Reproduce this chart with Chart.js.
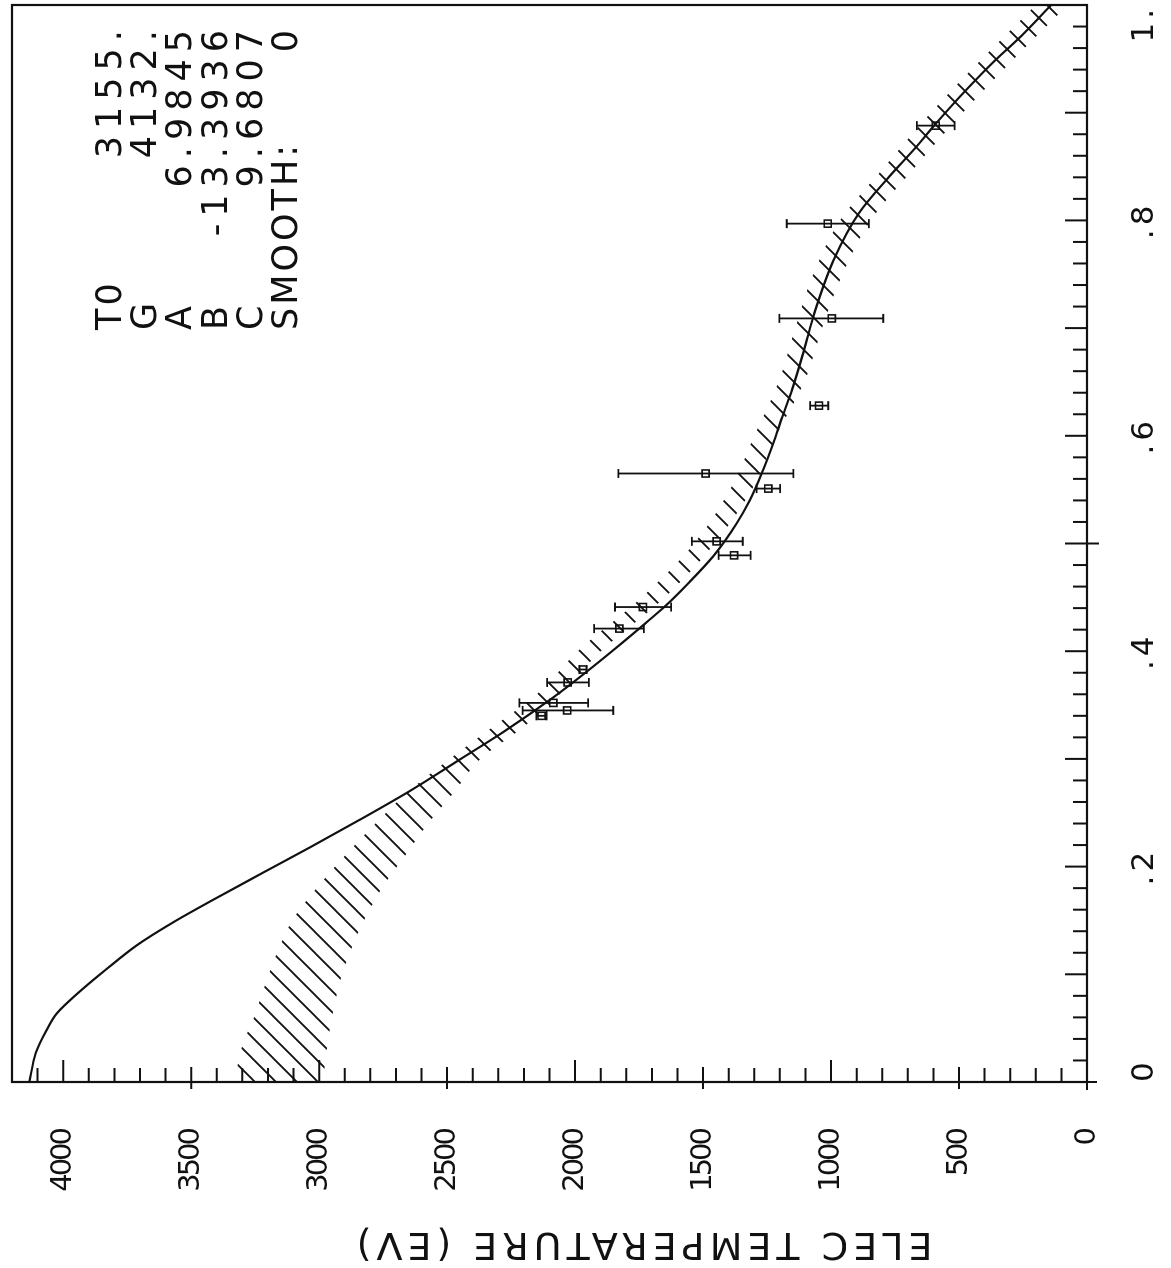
<!DOCTYPE html>
<html>
<head>
<meta charset="utf-8">
<title>Elec temperature profile</title>
<script src="https://cdn.jsdelivr.net/npm/chart.js@4.4.1/dist/chart.umd.min.js"></script>
<style>
  html, body { margin: 0; padding: 0; background: #fff; overflow: hidden; }
  #page { position: relative; width: 1171px; height: 1268px; }
  /* the plot is drawn upright, then the whole sheet is turned a quarter left */
  #plot { position: absolute; left: 0; top: 0; width: 1268px; height: 1171px;
          transform-origin: 0 0; transform: translateY(1268px) rotate(-90deg); }
</style>
</head>
<body>
<div id="page"><canvas id="plot" width="1268" height="1171"></canvas></div>
<script>
const INK = '#111';
const FONT = '"DejaVu Sans", sans-serif';

// Fitted profile (normalised radius -> temperature, eV)
const FIT_R = [0.000, 0.027, 0.048, 0.064, 0.083, 0.104, 0.127, 0.149, 0.171, 0.194, 0.218, 0.243, 0.271,
  0.301, 0.325, 0.357, 0.380, 0.408, 0.424, 0.441, 0.463, 0.488, 0.519, 0.540, 0.568, 0.593, 0.618,
  0.643, 0.680, 0.714, 0.763, 0.807, 0.840, 0.868, 0.890, 0.915, 0.946, 0.974, 1.000];
const FIT_T = [4132, 4107, 4065, 4024, 3940, 3835, 3712, 3565, 3400, 3222, 3035, 2845, 2640,
  2440, 2280, 2086, 1960, 1815, 1735, 1652, 1558, 1461, 1368, 1318, 1266, 1226, 1190,
  1152, 1105, 1065, 990, 890, 775, 668, 590, 496, 370, 245, 140];

// Hatched band: upper and lower edge
const BAND_R = [0, 0.03, 0.06, 0.09, 0.12, 0.15, 0.18, 0.21, 0.24, 0.27, 0.30, 0.33, 0.36, 0.40,
  0.45, 0.50, 0.55, 0.60, 0.65, 0.70, 0.75, 0.80, 0.85, 0.90, 0.95, 1.00];
const BAND_HI = [3330, 3305, 3255, 3212, 3165, 3105, 3010, 2900, 2780, 2650, 2490, 2320, 2150, 1990,
  1740, 1535, 1395, 1300, 1205, 1140, 1070, 965, 790, 610, 410, 200];
const BAND_LO = [2985, 2970, 2950, 2922, 2880, 2825, 2755, 2665, 2575, 2470, 2370, 2200, 2060, 1900,
  1650, 1455, 1310, 1215, 1105, 1035, 955, 845, 670, 485, 285, 75];

// Measured points with error bars
const OBS_R = [0.340, 0.345, 0.352, 0.371, 0.383, 0.421, 0.441, 0.489, 0.502, 0.551, 0.565, 0.628, 0.709, 0.797, 0.888];
const OBS_T = [2131, 2031, 2085, 2029, 1969, 1827, 1735, 1379, 1447, 1245, 1490, 1047, 997, 1013, 591];
const OBS_T_LO = [2111, 1851, 1949, 1946, 1955, 1731, 1625, 1314, 1345, 1199, 1147, 1011, 796, 852, 517];
const OBS_T_HI = [2151, 2205, 2218, 2109, 1983, 1926, 1844, 1439, 1544, 1291, 1831, 1082, 1202, 1173, 665];

// Fit parameters block
const PARAM_LABELS = ['T0', 'G', 'A', 'B', 'C', 'SMOOTH:'];
const PARAM_VALUES = ['3155.', '4132.', '6.9845', '-13.3936', '9.6807', '0'];

const R_TICKS = [0, 0.2, 0.4, 0.6, 0.8, 1.0];
const R_TICK_LABELS = ['0', '.2', '.4', '.6', '.8', '1.'];
const TEMP_TICKS = [0, 500, 1000, 1500, 2000, 2500, 3000, 3500, 4000];
const TEMP_TICK_LABELS = ['0', '500', '1000', '1500', '2000', '2500', '3000', '3500', '4000'];
const Y_TITLE = 'ELEC TEMPERATURE (EV)';

const canvas = document.getElementById('plot');

function makeHatch(size, width) {
  const tile = document.createElement('canvas');
  tile.width = size;
  tile.height = size;
  const t = tile.getContext('2d');
  t.strokeStyle = INK;
  t.lineWidth = width;
  t.beginPath();
  t.moveTo(-2, size + 2); t.lineTo(size + 2, -2);
  t.moveTo(-3, 3); t.lineTo(3, -3);
  t.moveTo(size - 3, size + 3); t.lineTo(size + 3, size - 3);
  t.stroke();
  return canvas.getContext('2d').createPattern(tile, 'repeat');
}

const pts = (xs, ys) => xs.map((x, i) => ({ x, y: ys[i] }));
const CLEAR = 'rgba(0,0,0,0)';

// keep the plot box where it is: no extra room for end labels
function noPad(s) {
  s.paddingTop = 0;
  s.paddingBottom = 0;
  s.paddingLeft = 0;
  s.paddingRight = 0;
}

// temperature numbers are set tight; the radius labels (ticks.z: 1) come later with wide spacing
const tickSpacing = {
  id: 'tickSpacing',
  beforeDraw(chart) { chart.ctx.letterSpacing = '-3px'; },
  afterDatasetsDraw(chart) { chart.ctx.letterSpacing = '4px'; },
  afterDraw(chart) { chart.ctx.letterSpacing = '0px'; },
};

// frame, inward tick marks
const frameTicks = {
  id: 'frameTicks',
  afterDatasetsDraw(chart) {
    const { ctx, chartArea: a, scales: { x, y } } = chart;
    ctx.save();
    ctx.strokeStyle = INK;
    ctx.lineWidth = 2.2;
    ctx.strokeRect(a.left, a.top, a.right - a.left, a.bottom - a.top);
    ctx.beginPath();
    ctx.moveTo(a.left - 8, a.bottom); ctx.lineTo(a.left, a.bottom);
    ctx.moveTo(a.left, a.bottom); ctx.lineTo(a.left, a.bottom + 10);
    ctx.lineWidth = 2;
    for (let v = 100; v < 4200; v += 100) {
      const py = y.getPixelForValue(v);
      let inner = 14, outer = 0;
      if (v % 1000 === 0) inner = 22;
      else if (v % 500 === 0) { inner = 15; outer = 7; }
      ctx.moveTo(a.left - outer, py);
      ctx.lineTo(a.left + inner, py);
    }
    for (let k = 1; k < 50; k++) {
      const px = x.getPixelForValue(k / 50);
      let inner = 14, outer = 0;
      if (k === 25) { inner = 22; outer = 12; }
      else if (k % 5 === 0) inner = 22;
      ctx.moveTo(px, a.bottom + outer);
      ctx.lineTo(px, a.bottom - inner);
    }
    ctx.stroke();
    ctx.restore();
  },
};

// error bars for the measured points
const errorBars = {
  id: 'errorBars',
  afterDatasetsDraw(chart) {
    const { ctx, scales: { x, y } } = chart;
    ctx.save();
    ctx.strokeStyle = INK;
    ctx.lineWidth = 1.8;
    ctx.beginPath();
    OBS_R.forEach((r, i) => {
      const px = x.getPixelForValue(r);
      const lo = y.getPixelForValue(OBS_T_LO[i]);
      const hi = y.getPixelForValue(OBS_T_HI[i]);
      ctx.moveTo(px, lo); ctx.lineTo(px, hi);
      ctx.moveTo(px - 4.5, lo); ctx.lineTo(px + 4.5, lo);
      ctx.moveTo(px - 4.5, hi); ctx.lineTo(px + 4.5, hi);
    });
    ctx.stroke();
    ctx.restore();
  },
};

// axis title and the parameter block
const texts = {
  id: 'texts',
  afterDraw(chart) {
    const { ctx } = chart;
    ctx.save();
    ctx.fillStyle = INK;
    ctx.textBaseline = 'middle';

    ctx.save();
    ctx.translate(25, 642);
    ctx.rotate(-Math.PI / 2);
    ctx.font = '38px ' + FONT;
    ctx.letterSpacing = '5px';
    ctx.textAlign = 'center';
    ctx.fillText(Y_TITLE, 0, 0);
    ctx.restore();

    ctx.font = '35px ' + FONT;
    PARAM_LABELS.forEach((label, i) => {
      const ty = 112 + 35.2 * i;
      ctx.textAlign = 'left';
      ctx.letterSpacing = '3px';
      ctx.fillText(label, 938, ty);
      ctx.textAlign = 'right';
      ctx.letterSpacing = '7px';
      ctx.fillText(PARAM_VALUES[i], 1245, ty);
    });
    ctx.restore();
  },
};

Chart.defaults.font.family = FONT;
Chart.defaults.color = INK;

new Chart(canvas, {
  type: 'scatter',
  data: {
    datasets: [
      {
        data: pts(BAND_R, BAND_HI),
        showLine: true, fill: false, borderColor: CLEAR, borderWidth: 1,
        pointRadius: 0, cubicInterpolationMode: 'monotone',
      },
      {
        data: pts(BAND_R, BAND_LO),
        showLine: true, fill: '-1', backgroundColor: makeHatch(21, 1.9),
        borderColor: CLEAR, borderWidth: 1,
        pointRadius: 0, cubicInterpolationMode: 'monotone',
      },
      {
        data: pts(FIT_R, FIT_T),
        showLine: true, fill: false, borderColor: INK, borderWidth: 2.2,
        pointRadius: 0, cubicInterpolationMode: 'monotone',
      },
      {
        data: pts(OBS_R, OBS_T),
        showLine: false, pointStyle: 'rect', pointRadius: 5,
        pointBorderWidth: 1.6, pointBorderColor: INK, pointBackgroundColor: CLEAR,
      },
    ],
  },
  options: {
    responsive: false,
    maintainAspectRatio: false,
    devicePixelRatio: 1,
    animation: false,
    events: [],
    layout: { autoPadding: false, padding: { top: 12, right: 5, left: 0, bottom: 0 } },
    plugins: { legend: { display: false }, tooltip: { enabled: false } },
    scales: {
      x: {
        type: 'linear', min: 0, max: 1,
        grid: { display: false }, border: { display: false },
        afterBuildTicks: (s) => { s.ticks = R_TICKS.map((v) => ({ value: v })); },
        afterFit: (s) => { s.height = 84; noPad(s); },
        ticks: {
          z: 1, autoSkip: false, maxRotation: 0, minRotation: 0, align: 'inner',
          padding: 31, font: { size: 31 }, color: INK,
          callback: (v, i) => R_TICK_LABELS[i],
        },
      },
      y: {
        type: 'linear', min: 0, max: 4200,
        grid: { display: false }, border: { display: false },
        afterBuildTicks: (s) => { s.ticks = TEMP_TICKS.map((v) => ({ value: v })); },
        afterFit: (s) => { s.width = 186; noPad(s); },
        ticks: {
          autoSkip: false, padding: 40, font: { size: 29 }, color: INK,
          callback: (v, i) => TEMP_TICK_LABELS[i],
        },
      },
    },
  },
  plugins: [tickSpacing, frameTicks, errorBars, texts],
});
</script>
</body>
</html>
